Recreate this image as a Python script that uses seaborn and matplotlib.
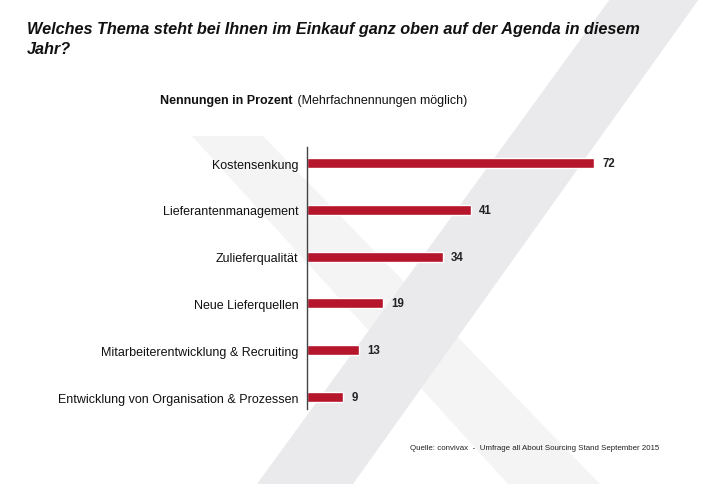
import numpy as np
import pandas as pd
import seaborn as sns
import matplotlib.pyplot as plt
from matplotlib.patches import Polygon

# Daten
categories = [
    "Kostensenkung",
    "Lieferantenmanagement",
    "Zulieferqualität",
    "Neue Lieferquellen",
    "Mitarbeiterentwicklung & Recruiting",
    "Entwicklung von Organisation & Prozessen",
]
values = [72, 41, 34, 19, 13, 9]

title = "Welches Thema steht bei Ihnen im Einkauf ganz oben auf der Agenda in diesem\nJahr?"
subtitle_bold = "Nennungen in Prozent"
subtitle_rest = " (Mehrfachnennungen möglich)"
source = "Quelle: convivax  -  Umfrage all About Sourcing Stand September 2015"

df = pd.DataFrame({"Thema": categories, "Prozent": values})

sns.set_style("white")
plt.rcParams["font.family"] = ["Liberation Sans", "DejaVu Sans"]

W, H = 701, 485
fig = plt.figure(figsize=(W / 100, H / 100), dpi=100)


def px(x, y):
    # Pixelkoordinaten (y nach unten) -> Figure-Anteile
    return (x / W, 1 - y / H)


# Hintergrund-"X"
light = Polygon([px(192, 137), px(263, 137), px(600, 485), px(508, 485)],
                closed=True, transform=fig.transFigure, facecolor="#f4f4f5",
                edgecolor="none", zorder=-2)
dark = Polygon([px(610, 0), px(699, 0), px(353, 485), px(257, 485)],
               closed=True, transform=fig.transFigure, facecolor="#eaeaec",
               edgecolor="none", zorder=-1)
fig.patches.extend([light, dark])

ax = fig.add_axes([307 / W, (H - 410) / H, 320 / W, 262 / H])
ax.patch.set_alpha(0)

sns.barplot(data=df, x="Prozent", y="Thema", color="#b5162b", saturation=1,
            width=0.21, ax=ax)

ax.set_xlim(0, 320 / 3.99)
ax.set_ylim(5.256, -0.342)
ax.bar_label(ax.containers[0], padding=6, fontsize=8.3, fontweight="bold",
             color="#222222")

ax.set_xlabel("")
ax.set_ylabel("")
ax.set_xticks([])
ax.tick_params(axis="y", left=False, length=0, pad=6, labelsize=9,
               labelcolor="#111111")
for s in ["top", "right", "bottom"]:
    ax.spines[s].set_visible(False)
ax.spines["left"].set_color("#444444")
ax.spines["left"].set_linewidth(1)

# Texte
fig.text(27 / W, 1 - 22 / H, title, fontsize=11.7, fontweight="bold",
         fontstyle="italic", va="top", ha="left", linespacing=1.45,
         color="#111111")
fig.text(293 / W, 1 - 101 / H, subtitle_bold, fontsize=9, fontweight="bold",
         va="center", ha="right", color="#111111")
fig.text(294 / W, 1 - 101 / H, subtitle_rest, fontsize=9,
         va="center", ha="left", color="#111111")
fig.text(410 / W, 1 - 449 / H, source, fontsize=5.7, va="center", ha="left",
         color="#222222")

fig.savefig("out.png", dpi=100)
